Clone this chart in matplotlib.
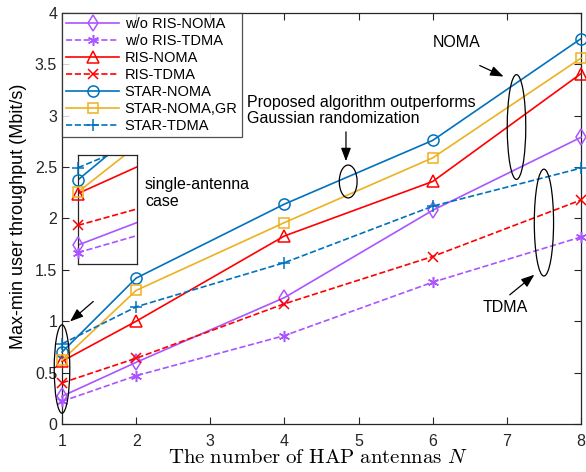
import matplotlib.pyplot as plt
from matplotlib.patches import Ellipse

plt.rcParams['font.family'] = ['Liberation Sans', 'DejaVu Sans']
plt.rcParams['mathtext.fontset'] = 'cm'

# number of HAP antennas
n_ant = [1, 2, 4, 6, 8]

# max-min throughput (Mbit/s)
wo_ris_noma = [0.27, 0.60, 1.23, 2.08, 2.79]
wo_ris_tdma = [0.22, 0.47, 0.86, 1.38, 1.82]
ris_noma = [0.61, 1.00, 1.83, 2.36, 3.41]
ris_tdma = [0.40, 0.64, 1.17, 1.63, 2.18]
star_noma = [0.70, 1.42, 2.14, 2.76, 3.75]
star_noma_gr = [0.62, 1.30, 1.96, 2.59, 3.56]
star_tdma = [0.78, 1.14, 1.57, 2.12, 2.49]

purple = '#AA55FF'
red = '#FF0000'
blue = '#0072BD'
orange = '#EDB120'

series = [
    ('w/o RIS-NOMA', wo_ris_noma, purple, '-', 'd', 8),
    ('w/o RIS-TDMA', wo_ris_tdma, purple, '--', (6, 2, 0), 8),
    ('RIS-NOMA', ris_noma, red, '-', '^', 9),
    ('RIS-TDMA', ris_tdma, red, '--', 'x', 7),
    ('STAR-NOMA', star_noma, blue, '-', 'o', 8),
    ('STAR-NOMA,GR', star_noma_gr, orange, '-', 's', 7),
    ('STAR-TDMA', star_tdma, blue, '--', '+', 9),
]

fig = plt.figure(figsize=(5.86, 4.72), dpi=100)
ax = fig.add_axes([62 / 586, 0.1017, 519 / 586, 0.8708])

for name, vals, c, ls, mk, ms in series:
    ax.plot(n_ant, vals, color=c, linestyle=ls, marker=mk, markersize=ms,
            markerfacecolor='none', markeredgewidth=1.1, linewidth=1.2,
            label=name, clip_on=False, zorder=3)

ax.set_xlim(1, 8)
ax.set_ylim(0, 4)
ax.set_xticks(range(1, 9))
ax.set_yticks([0, 0.5, 1, 1.5, 2, 2.5, 3, 3.5, 4])
ax.set_yticklabels(['0', '0.5', '1', '1.5', '2', '2.5', '3', '3.5', '4'])
ax.tick_params(direction='in', top=True, right=True, labelsize=11.5, colors='#262626',
               length=5)
ax.tick_params(axis='x', pad=7)
for s in ax.spines.values():
    s.set_color('#262626')
    s.set_linewidth(0.9)
ax.set_xlabel(r'$\mathrm{The\ number\ of\ HAP\ antennas}\ N$', fontsize=15)
ax.xaxis.set_label_coords(0.493, -0.058)
ax.set_ylabel('Max-min user throughput (Mbit/s)', fontsize=13)
ax.yaxis.set_label_coords(-0.067, 0.505)

leg = ax.legend(loc='upper left', fontsize=10.5, frameon=True, fancybox=False,
                edgecolor='#262626', borderaxespad=0, handlelength=3.6,
                borderpad=0.3, labelspacing=0.2, handletextpad=0.4)
leg.get_frame().set_linewidth(0.9)

# ellipses and annotations
ell = dict(fill=False, edgecolor='black', linewidth=0.9, zorder=4)
ax.add_patch(Ellipse((1.0, 0.535), 0.21, 0.86, clip_on=False, **ell))
ax.add_patch(Ellipse((4.86, 2.36), 0.24, 0.32, **ell))
ax.add_patch(Ellipse((7.13, 2.89), 0.25, 1.02, **ell))
ax.add_patch(Ellipse((7.50, 1.96), 0.26, 1.04, **ell))

arr = dict(arrowstyle='-|>,head_length=0.8,head_width=0.3', color='black', lw=0.9)
ax.text(3.49, 2.9, 'Proposed algorithm outperforms\nGaussian randomization',
        fontsize=11.5, ha='left', va='bottom', linespacing=1.1)
ax.annotate('', xy=(4.83, 2.53), xytext=(4.83, 2.87), arrowprops=arr)
ax.text(6.32, 3.71, 'NOMA', fontsize=11.5, ha='center', va='center')
ax.annotate('', xy=(6.99, 3.37), xytext=(6.6, 3.5), arrowprops=arr)
ax.text(6.98, 1.13, 'TDMA', fontsize=11.5, ha='center', va='center')
ax.annotate('', xy=(7.40, 1.47), xytext=(7.01, 1.24), arrowprops=arr)
ax.text(2.12, 2.25, 'single-antenna\ncase', fontsize=11.5, ha='left', va='center',
        linespacing=1.2)
ax.annotate('', xy=(1.08, 0.98), xytext=(1.45, 1.21), arrowprops=arr)

# inset zoomed on the single-antenna case
ins = fig.add_axes([78 / 586, 1 - 264 / 472, 59 / 586, 109 / 472])
for name, vals, c, ls, mk, ms in series:
    ins.plot(n_ant, vals, color=c, linestyle=ls, linewidth=1.2, zorder=2)
    ins.plot(n_ant[0], vals[0], color=c, linestyle='none', marker=mk, markersize=ms,
             markerfacecolor='none', markeredgewidth=1.1, clip_on=False, zorder=3)
ins.set_xlim(1, 1.45)
ins.set_ylim(0.145, 0.864)
ins.set_xticks([])
ins.set_yticks([])
for s in ins.spines.values():
    s.set_color('#262626')
    s.set_linewidth(0.9)

fig.savefig('out.png', dpi=100)
